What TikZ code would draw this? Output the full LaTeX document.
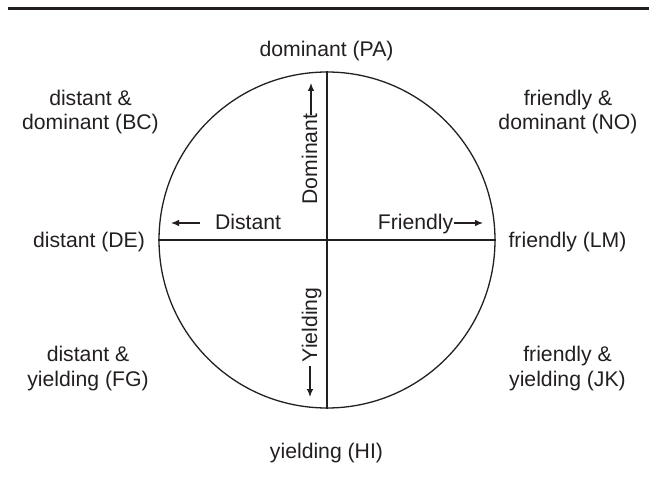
\documentclass[tikz,border=0pt]{standalone}
\usepackage{fontspec}
\setmainfont{Liberation Sans}
\usetikzlibrary{arrows.meta}
\definecolor{textc}{RGB}{35,31,32}
\begin{document}
\begin{tikzpicture}[x=1pt,y=-1pt,
  lbl/.style={font=\fontsize{21.2}{24}\selectfont, text=textc, inner sep=0pt, anchor=base},
  vlbl/.style={lbl, rotate=90},
  axis/.style={draw=textc, line width=1.2pt},
  arr/.style={draw=textc, line width=1.1pt, -{Latex[length=8pt,width=6.5pt]}}]
\useasboundingbox (0,0) rectangle (649,484);
% top rule
\coordinate (r1) at (8,9);
\coordinate (r2) at (649,9);
\draw[draw=textc, line width=3pt] (r1) -- (r2);
% circle
\node[draw=textc, circle, minimum size=336pt, inner sep=0pt, line width=1.3pt] (circ) at (327,240) {};
\draw[axis] (circ.north) -- (circ.south);
\draw[axis] (circ.west) -- (circ.east);
% axis labels
\node[vlbl] (dom) at (317,159) {Dominant};
\node[vlbl] (yie) at (317,325) {Yielding};
\node[lbl] (dis) at (248,230) {Distant};
\node[lbl] (fri) at (415.5,230) {Friendly};
% arrows
\coordinate (dA) at (311,115); \coordinate (dB) at (311,83);
\coordinate (yA) at (310,366); \coordinate (yB) at (310,397);
\coordinate (sA) at (200,223); \coordinate (sB) at (171,223);
\coordinate (fA) at (454,223); \coordinate (fB) at (483,223);
\draw[arr] (dA) -- (dB);
\draw[arr] (yA) -- (yB);
\draw[arr] (sA) -- (sB);
\draw[arr] (fA) -- (fB);
% outer labels
\node[lbl] (pa) at (326.5,57) {dominant (PA)};
\node[lbl] (bc1) at (90.5,106) {distant \&};
\node[lbl] (bc2) at (90.5,130) {dominant (BC)};
\node[lbl] (no1) at (568,106) {friendly \&};
\node[lbl] (no2) at (568,130) {dominant (NO)};
\node[lbl] (de) at (89,248) {distant (DE)};
\node[lbl] (lm) at (567.5,248) {friendly (LM)};
\node[lbl] (fg1) at (88,362) {distant \&};
\node[lbl] (fg2) at (88,386) {yielding (FG)};
\node[lbl] (jk1) at (567.5,362) {friendly \&};
\node[lbl] (jk2) at (567.5,386) {yielding (JK)};
\node[lbl] (hi) at (326.5,458) {yielding (HI)};
\end{tikzpicture}
\end{document}
